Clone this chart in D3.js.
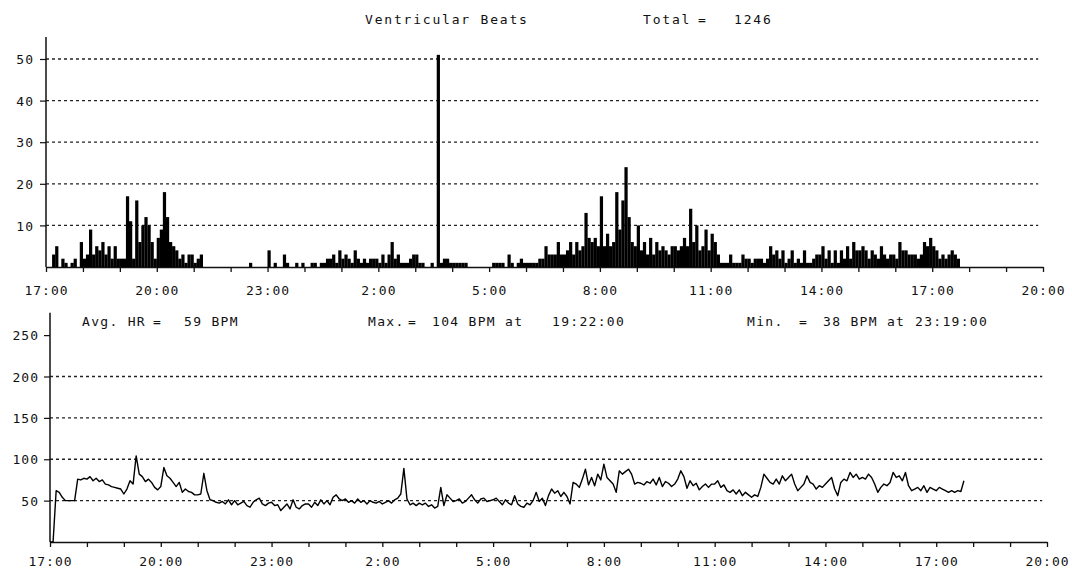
<!DOCTYPE html>
<html>
<head>
<meta charset="utf-8">
<script src="https://cdn.jsdelivr.net/npm/d3@7"></script>
<style>
  html, body { margin: 0; padding: 0; background: #fff; }
  svg { display: block; }
  text { font-family: "DejaVu Sans Mono", monospace; fill: #111; }
</style>
</head>
<body>
<svg id="chart" width="1072" height="571"></svg>
<script>
// ---------------- DATA ----------------
// time axis: hours after 17:00 (day 1), one label every 3 hours
const xTickLabels = ["17:00","20:00","23:00","2:00","5:00","8:00","11:00","14:00","17:00","20:00"];
const binMinutes = 5;

// Ventricular beats per 5-minute bin, one row per hour starting 17:00
const veCounts = [
  0,0,3,5,0,2,1,0,1,2,0,6,
  2,3,9,3,5,4,6,3,5,2,5,2,
  2,2,17,11,2,16,6,10,12,10,6,2,
  7,9,18,12,6,5,4,2,3,1,3,3,
  1,2,3,0,0,0,0,0,0,0,0,0,
  0,0,0,0,0,0,1,0,0,0,0,0,
  4,0,1,0,0,3,1,0,0,1,0,1,
  0,0,1,1,0,1,1,2,2,3,1,4,
  2,3,2,1,4,2,1,2,1,2,2,2,
  1,3,1,3,6,2,3,1,1,1,2,3,
  3,1,1,0,0,1,0,51,1,2,2,1,
  1,1,1,1,1,0,0,0,0,0,0,0,
  0,1,1,1,1,0,3,1,0,1,2,1,
  1,1,1,1,2,2,5,3,3,3,6,3,
  3,4,6,3,6,4,5,13,7,6,7,5,
  17,5,8,5,6,18,9,16,24,12,6,5,
  10,4,6,3,7,3,6,4,5,4,3,5,
  5,4,5,7,5,14,6,10,4,5,9,4,
  8,6,3,1,1,1,3,1,1,1,3,2,
  2,1,2,2,2,1,2,5,3,4,2,4,
  1,2,4,1,2,1,4,1,1,2,3,3,
  5,2,4,1,4,1,4,2,5,2,6,4,
  4,5,4,2,4,3,2,5,3,2,3,3,
  2,6,4,4,3,3,3,2,3,6,5,7,
  5,4,2,3,2,3,4,3,2
];

// Heart rate (BPM) every 5 minutes, one row per hour starting 17:00
const hrValues = [
  0,0,62,60,54,50,50,50,50,76,75,77,
  76,79,74,77,73,75,70,69,67,66,65,64,
  58,64,74,70,104,82,79,73,76,72,66,63,
  67,90,80,77,72,67,72,60,64,61,60,57,
  57,58,83,62,51,50,48,47,49,46,51,45,
  50,45,47,49,44,42,48,51,53,46,44,47,
  48,44,45,38,42,46,40,51,42,40,44,46,
  46,42,48,44,51,46,50,45,54,57,52,50,
  52,48,50,47,52,48,50,46,50,48,47,49,
  46,48,50,47,51,53,58,89,52,45,47,44,
  47,45,47,43,45,41,43,66,44,57,53,49,
  50,52,47,49,53,57,51,47,52,53,49,50,
  51,53,49,45,51,47,45,56,46,43,42,47,
  45,50,60,49,53,44,56,64,59,62,55,60,
  55,46,72,70,66,76,88,69,78,68,82,75,
  94,78,74,70,60,86,82,85,88,82,70,72,
  71,69,73,71,76,69,78,67,73,71,67,70,
  76,86,79,65,74,68,71,63,67,70,66,70,
  70,74,66,69,62,60,63,58,63,56,60,57,
  54,57,55,66,82,77,72,70,76,70,80,74,
  78,82,70,62,66,70,80,72,70,64,68,66,
  70,74,78,64,56,72,76,74,84,78,82,76,
  78,76,82,78,70,60,66,70,68,72,84,78,
  80,74,84,68,62,64,66,62,68,60,66,64,
  62,66,64,62,60,62,60,62,61,74
];

const veTicks = [10,20,30,40,50];
const veGrid  = [10,20,30,40,50];
const hrTicks = [50,100,150,200,250];
const hrGrid  = [50,100,150,200];

const veTitle = [
  {t:"Ventricular Beats", x:365},
  {t:"Total", x:643},
  {t:"=", x:698},
  {t:"1246", x:734}
];
const hrTitle = [
  {t:"Avg. HR", x:82}, {t:"=", x:153}, {t:"59 BPM", x:184},
  {t:"Max.", x:368}, {t:"=", x:408}, {t:"104 BPM at", x:432}, {t:"19:22:00", x:552},
  {t:"Min.", x:747}, {t:"=", x:799}, {t:"38 BPM at", x:823}, {t:"23:19:00", x:915}
];

// ---------------- DRAW ----------------
const svg = d3.select("#chart");
const hours = d3.range(0, 28);
const binH = binMinutes / 60;
const fmtX = d => (d % 3 === 0 ? xTickLabels[d / 3] : "");

function panel(cfg) {
  const g = svg.append("g");
  const x = d3.scaleLinear().domain([0, 27]).range(cfg.xr);
  const y = d3.scaleLinear().domain(cfg.yd).range(cfg.yr);

  // dotted grid
  g.append("g").selectAll("line").data(cfg.grid).join("line")
    .attr("x1", x(0)).attr("x2", x(26.87))
    .attr("y1", d => y(d)).attr("y2", d => y(d))
    .attr("stroke", "#222").attr("stroke-width", 1.3)
    .attr("stroke-dasharray", "3,3");

  // y axis
  const ya = g.append("g").attr("transform", `translate(${x(0)},0)`)
    .call(d3.axisLeft(y).tickValues(cfg.ticks).tickSize(6).tickPadding(cfg.pad));
  ya.select(".domain").remove();
  ya.selectAll("line").attr("stroke", "#111").attr("stroke-width", 1.2);
  ya.selectAll("text").style("font-size", "13px").style("letter-spacing", "1px")
    .attr("dy", "0.36em").attr("fill", "#111");
  g.append("line").attr("x1", x(0)).attr("x2", x(0))
    .attr("y1", y(cfg.ytop)).attr("y2", y(0))
    .attr("stroke", "#111").attr("stroke-width", 1.5);

  // x axis
  const xa = g.append("g").attr("transform", `translate(0,${y(0)})`)
    .call(d3.axisBottom(x).tickValues(hours).tickFormat(fmtX)
      .tickSize(5).tickSizeOuter(0).tickPadding(cfg.xpad));
  xa.select(".domain").attr("stroke", "#111").attr("stroke-width", 1.4);
  xa.selectAll("line").attr("stroke", "#111").attr("stroke-width", 1.3);
  xa.selectAll("text").style("font-size", "13px").style("letter-spacing", "1px")
    .attr("fill", "#111");

  return { g, x, y };
}

// Top: ventricular beats
const vePanel = panel({ xr: [46, 1043], yd: [0, 50], yr: [267, 59], ytop: 55.3,
  grid: veGrid, ticks: veTicks, pad: 6, xpad: 14 });
const bw = (vePanel.x(binH) - vePanel.x(0)) * 1.05;
vePanel.g.append("g").selectAll("rect").data(veCounts).join("rect")
  .attr("x", (d, i) => vePanel.x((i + 0.5) * binH) - bw / 2)
  .attr("width", bw)
  .attr("y", d => vePanel.y(d))
  .attr("height", d => vePanel.y(0) - vePanel.y(d))
  .attr("fill", "#000");

vePanel.g.append("g").selectAll("text").data(veTitle).join("text")
  .attr("x", d => d.x).attr("y", 24)
  .style("font-size", "13px").style("letter-spacing", "1.8px")
  .text(d => d.t);

// Bottom: heart rate
const hrPanel = panel({ xr: [50, 1047], yd: [0, 200], yr: [542, 376.5], ytop: 277,
  grid: hrGrid, ticks: hrTicks, pad: 5, xpad: 10 });
hrPanel.g.append("path")
  .datum(hrValues)
  .attr("fill", "none").attr("stroke", "#000").attr("stroke-width", 1.4)
  .attr("stroke-linejoin", "round")
  .attr("d", d3.line().x((d, i) => hrPanel.x(i * binH)).y(d => hrPanel.y(d)));

hrPanel.g.append("g").selectAll("text").data(hrTitle).join("text")
  .attr("x", d => d.x).attr("y", 326)
  .style("font-size", "13px").style("letter-spacing", "1.3px")
  .text(d => d.t);
</script>
</body>
</html>
